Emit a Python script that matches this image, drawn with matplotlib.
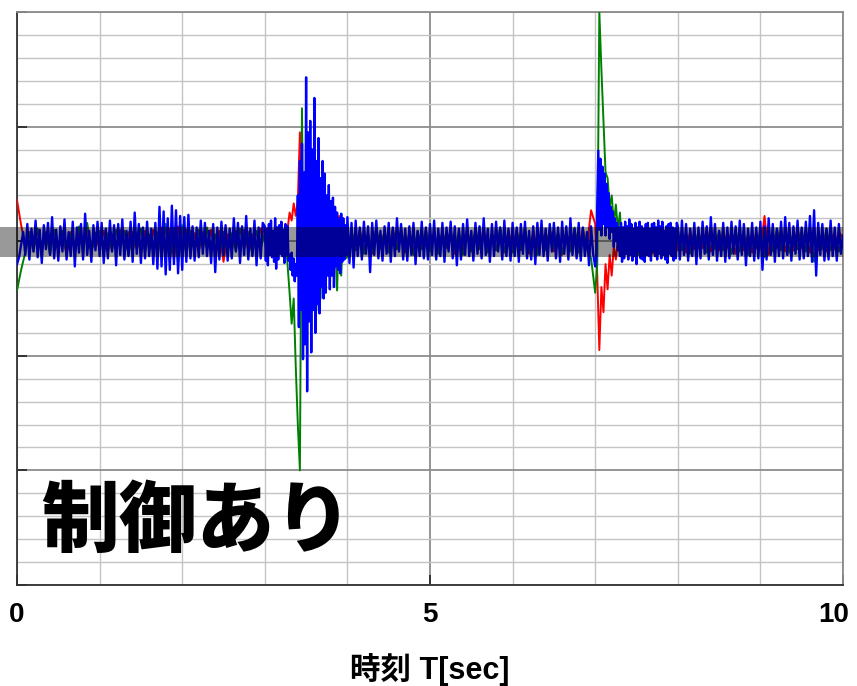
import numpy as np
import matplotlib
matplotlib.use('Agg')
from matplotlib import pyplot as plt
from matplotlib.patches import Rectangle
from matplotlib.transforms import blended_transform_factory, ScaledTranslation

# signal values, one list per second; samples of a list are spread evenly over that second
blue_values = [
    [-0.20, -0.14, -0.03, 0.08, -0.12, 0.15, -0.16, 0.11, -0.09, 0.18, -0.14, 0.10, -0.19, 0.14, -0.07, 0.16, -0.12, 0.21, -0.15, 0.10,
     -0.17, 0.13, -0.09, 0.19, -0.16, 0.08, -0.13, 0.17, -0.22, 0.12, -0.10, 0.15, -0.16, 0.24, -0.12, 0.09, -0.18, 0.14, -0.08, 0.17],
    [-0.13, 0.16, -0.19, 0.11, -0.15, 0.18, -0.09, 0.14, -0.21, 0.15, -0.12, 0.19, -0.16, 0.09, -0.13, 0.17, -0.18, 0.25, -0.11, 0.15,
     -0.19, 0.12, -0.15, 0.17, -0.13, 0.11, -0.20, 0.16, -0.24, 0.30, -0.22, 0.26, -0.29, 0.20, -0.25, 0.31, -0.20, 0.27, -0.28, 0.22],
    [-0.25, 0.21, -0.18, 0.23, -0.15, 0.13, -0.17, 0.12, -0.14, 0.18, -0.11, 0.16, -0.13, 0.09, -0.19, 0.15, -0.27, 0.12, -0.16, 0.17,
     -0.12, 0.14, -0.17, 0.11, -0.15, 0.20, -0.09, 0.16, -0.19, 0.13, -0.12, 0.22, -0.16, 0.11, -0.13, 0.18, -0.21, 0.12, -0.15, 0.16],
    [0.13, -0.17, 0.11, -0.21, 0.15, -0.12, 0.18, -0.14, 0.09, -0.18, 0.20, -0.24, 0.12, -0.16, 0.14, -0.11, 0.17, -0.13, 0.10, -0.19,
     0.15, -0.12, 0.13, -0.17, -0.12, -0.25, -0.10, -0.30, -0.15, -0.35, -0.20, -0.30, 0.40, -0.75, 0.70, -0.60, 0.85, -1.03, 0.60, -0.90,
     1.43, -1.31, 0.95, -0.70, 1.05, -0.97, 0.80, -0.60, 1.25, -0.80, 0.70, -0.55, 0.90, -0.63, 0.55, -0.40, 0.70, -0.50, 0.59, -0.45,
     0.40, -0.30, 0.49, -0.42, 0.35, -0.30, 0.38, -0.40, 0.30, -0.22, 0.25, -0.25, 0.20, -0.28, 0.24, -0.18, 0.20, -0.16, 0.14, -0.12],
    [0.21, -0.19, 0.16, -0.23, 0.18, -0.13, 0.12, -0.16, 0.17, -0.11, 0.13, -0.27, 0.16, -0.12, 0.18, -0.15, 0.09, -0.17, 0.13, -0.11,
     0.16, -0.18, 0.12, -0.13, 0.20, -0.09, 0.15, -0.16, 0.11, -0.17, 0.13, -0.12, 0.16, -0.20, 0.09, -0.13, 0.17, -0.15, 0.12, -0.16],
    [0.15, -0.12, 0.18, -0.16, 0.11, -0.13, 0.16, -0.18, 0.12, -0.09, 0.17, -0.15, 0.13, -0.21, 0.11, -0.16, 0.15, -0.12, 0.19, -0.13,
     0.09, -0.17, 0.16, -0.11, 0.13, -0.15, 0.20, -0.12, 0.11, -0.18, 0.15, -0.13, 0.17, -0.09, 0.12, -0.16, 0.18, -0.13, 0.11, -0.17],
    [0.16, -0.13, 0.12, -0.18, 0.15, -0.11, 0.17, -0.15, 0.09, -0.16, 0.13, -0.20, 0.16, -0.12, 0.18, -0.13, 0.11, -0.17, 0.15, -0.09,
     0.16, -0.15, 0.12, -0.18, 0.17, -0.11, 0.13, -0.16, 0.20, -0.12, 0.11, -0.15, 0.16, -0.17, 0.12, -0.13, 0.08, -0.21, 0.13, -0.11],
    [-0.22, -0.15, 0.30, 0.79, 0.10, 0.72, 0.05, 0.65, 0.15, 0.59, 0.05, 0.50, 0.12, 0.42, 0.02, 0.30, 0.08, 0.26, -0.05, 0.20,
     0.00, 0.16, -0.08, 0.12, -0.13, 0.16, -0.18, 0.12, -0.15, 0.17, -0.11, 0.13, -0.16, 0.19, -0.12, 0.15, -0.17, 0.11, -0.13, 0.16,
     -0.20, 0.12, -0.09, 0.17, -0.15, 0.13, -0.16, 0.11, -0.18, 0.15, -0.12, 0.16, -0.13, 0.11, -0.17, 0.15, -0.09, 0.16, -0.13, 0.12,
     -0.16, 0.18, -0.11, 0.13, -0.15, 0.17, -0.12, 0.09, -0.16, 0.13, -0.19, 0.15, -0.11, 0.16, -0.13, 0.12, -0.17, 0.11, -0.15, 0.16],
    [0.13, -0.16, 0.18, -0.12, 0.15, -0.17, 0.11, -0.13, 0.16, -0.20, 0.12, -0.15, 0.17, -0.11, 0.13, -0.16, 0.21, -0.12, 0.15, -0.17,
     0.09, -0.13, 0.16, -0.18, 0.12, -0.15, 0.17, -0.11, 0.13, -0.16, 0.18, -0.12, 0.15, -0.21, 0.11, -0.13, 0.16, -0.17, 0.12, -0.15],
    [0.17, -0.25, 0.13, -0.16, 0.20, -0.12, 0.15, -0.18, 0.11, -0.13, 0.17, -0.15, 0.21, -0.12, 0.16, -0.17, 0.13, -0.11, 0.18, -0.16,
     0.12, -0.15, 0.17, -0.13, 0.22, -0.18, 0.27, -0.30, 0.16, -0.12, 0.15, -0.17, 0.11, -0.16, 0.18, -0.13, 0.12, -0.17, 0.15, -0.11],
]
blue_end = 0.05

green_values = [
    [-0.43, -0.25, -0.10, 0.07, -0.09, 0.11, -0.06, 0.08, -0.12, 0.10, -0.07, 0.09, -0.10, 0.06, -0.08, 0.13, -0.11, 0.16, -0.10, 0.07],
    [0.09, -0.11, 0.07, -0.08, 0.10, -0.06, 0.09, -0.12, 0.08, -0.07, 0.11, -0.09, 0.06, -0.10, 0.08, -0.13, 0.15, -0.18, 0.12, -0.20],
    [0.14, -0.12, 0.09, -0.08, 0.10, -0.07, 0.12, -0.09, 0.06, -0.11, 0.08, -0.10, 0.07, -0.09, 0.11, -0.06, 0.08, -0.12, 0.09, -0.07],
    [0.08, -0.10, 0.06, -0.12, 0.09, -0.07, 0.10, -0.11, 0.08, -0.09, 0.07, -0.20, -0.45, -0.72, -0.50, -1.10, -1.60, -2.00, 1.16, -0.80,
     0.60, -0.70, 0.40, -0.55, 0.30, -0.60, 0.25, -0.50, 0.20, -0.35, 0.15, -0.30, 0.12, -0.25, 0.10, -0.43, 0.15, -0.30, 0.10, -0.15],
    [-0.14, 0.10, -0.08, 0.09, -0.11, 0.07, -0.09, 0.12, -0.06, 0.08, -0.10, 0.09, -0.07, 0.11, -0.08, 0.06, -0.12, 0.09, -0.07, 0.10],
    [-0.09, 0.07, -0.11, 0.08, -0.06, 0.10, -0.08, 0.09, -0.12, 0.07, -0.09, 0.11, -0.07, 0.08, -0.10, 0.06, -0.08, 0.12, -0.09, 0.07],
    [-0.10, 0.08, -0.07, 0.11, -0.09, 0.06, -0.12, 0.09, -0.08, 0.10, -0.06, 0.08, -0.11, 0.07, -0.09, 0.12, -0.10, 0.08, -0.07, -0.15],
    [-0.45, -0.20, 2.00, 1.50, 1.05, 0.60, 0.55, 0.30, 0.40, 0.15, 0.32, 0.10, 0.25, -0.12, 0.08, -0.10, 0.09, -0.07, 0.11, -0.08,
     0.06, -0.12, 0.09, -0.07, 0.10, -0.08, 0.07, -0.11, 0.09, -0.06, 0.08, -0.10, 0.12, -0.07, 0.09, -0.08, 0.06, -0.11, 0.10, -0.09],
    [0.10, -0.08, 0.07, -0.11, 0.09, -0.06, 0.08, -0.10, 0.12, -0.07, 0.09, -0.08, 0.06, -0.11, 0.10, -0.09, 0.07, -0.12, 0.08, -0.06],
    [0.09, -0.14, 0.07, -0.09, 0.11, -0.08, 0.06, -0.10, 0.08, -0.07, 0.10, -0.09, 0.12, -0.18, 0.09, -0.07, 0.11, -0.08, 0.06, -0.09],
]
green_end = 0.04

red_values = [
    [0.36, 0.14, -0.04, 0.08, -0.06, 0.09, -0.10, 0.07, -0.05, 0.10, -0.08, 0.06, -0.12, 0.08, -0.07, 0.09, -0.05, 0.11, -0.09, 0.06],
    [-0.07, 0.09, -0.10, 0.06, -0.08, 0.10, -0.06, 0.08, -0.09, 0.07, -0.11, 0.09, -0.06, 0.10, -0.08, 0.12, -0.14, 0.11, -0.16, 0.13],
    [-0.12, 0.10, -0.08, 0.07, -0.09, 0.08, -0.06, 0.10, -0.07, 0.09, -0.18, 0.06, -0.08, 0.09, -0.07, 0.10, -0.09, 0.06, -0.08, 0.11],
    [0.07, -0.09, 0.10, -0.06, 0.08, -0.10, 0.06, -0.08, 0.09, -0.07, 0.08, 0.10, 0.25, 0.18, 0.33, 0.22, 0.36, 0.95, 0.50, -0.40,
     0.45, -0.35, 0.40, -0.30, 0.30, -0.30, 0.25, -0.20, 0.22, -0.20, 0.20, -0.15, 0.22, -0.10, 0.28, -0.10, 0.22, -0.08, 0.12, -0.06],
    [-0.10, 0.08, -0.07, 0.10, -0.09, 0.06, -0.11, 0.08, -0.06, 0.09, -0.08, 0.11, -0.07, 0.06, -0.10, 0.08, -0.09, 0.07, -0.06, 0.10],
    [-0.08, 0.07, -0.10, 0.09, -0.06, 0.08, -0.11, 0.06, -0.09, 0.10, -0.07, 0.08, -0.06, 0.11, -0.09, 0.07, -0.08, 0.06, -0.10, 0.09],
    [-0.07, 0.10, -0.08, 0.06, -0.11, 0.09, -0.07, 0.08, -0.06, 0.10, -0.09, 0.07, -0.12, 0.08, -0.06, 0.09, -0.08, 0.11, -0.05, 0.27],
    [0.15, -0.30, -0.95, -0.40, -0.62, -0.20, -0.42, -0.12, -0.30, -0.05, -0.16, 0.02, -0.10, 0.08, -0.06, 0.09, -0.11, 0.07, -0.08, 0.10,
     -0.06, 0.08, -0.09, 0.06, -0.07, 0.10, -0.08, 0.07, -0.11, 0.06, -0.09, 0.08, -0.07, 0.10, -0.06, 0.09, -0.08, 0.07, -0.10, 0.08],
    [-0.08, 0.06, -0.10, 0.09, -0.07, 0.08, -0.06, 0.11, -0.09, 0.07, -0.08, 0.10, -0.06, 0.09, -0.11, 0.07, -0.08, 0.06, -0.10, 0.08],
    [-0.07, 0.22, -0.12, 0.08, -0.06, 0.10, -0.09, 0.07, -0.08, 0.11, -0.06, 0.09, -0.10, 0.07, -0.08, 0.06, -0.09, 0.10, -0.07, 0.08],
]
red_end = 0.03

x_ticks = [0, 5, 10]
x_tick_labels = ['0', '5', '10']
x_label = '時刻 T[sec]'
note_text = '制御あり'


def to_series(per_second, end_value):
    # each second's samples are spread evenly over that second
    t, v = [], []
    for sec, vals in enumerate(per_second):
        t.extend(np.linspace(sec, sec + 1, len(vals), endpoint=False))
        v.extend(vals)
    t.append(len(per_second))
    v.append(end_value)
    return np.array(t), np.array(v)


latin_cjk = ['Liberation Sans', 'Noto Sans CJK JP', 'DejaVu Sans']

fig = plt.figure(figsize=(8.57, 6.86), dpi=100)
ax = fig.add_axes([17 / 857, 101 / 686, 826 / 857, 573 / 686])

t_r, v_r = to_series(red_values, red_end)
t_g, v_g = to_series(green_values, green_end)
t_b, v_b = to_series(blue_values, blue_end)
ax.plot(t_r, v_r, color='#ff0000', lw=1.4, zorder=3)
ax.plot(t_g, v_g, color='#008000', lw=1.4, zorder=4)
ax.plot(t_b, v_b, color='#0000ff', lw=1.7, zorder=5)

ax.set_xlim(0, 10)
ax.set_ylim(-3, 2)
ax.set_xticks(x_ticks)
ax.set_xticks(np.arange(0, 11, 1), minor=True)
ax.set_yticks(np.arange(-3, 3, 1))
ax.set_yticks(np.arange(-3, 2.01, 0.2), minor=True)
ax.set_yticklabels([])
ax.set_xticklabels(x_tick_labels, fontsize=20, fontweight='bold', family=latin_cjk)

ax.grid(which='major', color='#8c8c8c', lw=1.3, zorder=1)
ax.grid(which='minor', color='#c4c4c4', lw=1.0, zorder=1)
ax.set_axisbelow(True)

ax.tick_params(which='major', direction='in', length=7, width=1.2, color='#222222', pad=12)
ax.tick_params(which='minor', length=0)
ax.tick_params(axis='y', which='major', labelleft=False)

for side in ['left', 'bottom']:
    ax.spines[side].set_color('#333333')
    ax.spines[side].set_linewidth(1.3)
for side in ['top', 'right']:
    ax.spines[side].set_color('#8c8c8c')
    ax.spines[side].set_linewidth(1.3)

# shift the last tick label a little so it stays inside the picture
last = ax.get_xticklabels()[-1]
last.set_transform(last.get_transform() + ScaledTranslation(-0.09, 0, fig.dpi_scale_trans))

ax.set_xlabel(x_label, fontsize=22, fontweight='bold', family=latin_cjk, labelpad=18)

ax.text(0.2173, 0.108, note_text, transform=ax.transAxes, ha='center', va='center',
        fontsize=56, fontweight='black', family=['Noto Sans CJK JP', 'DejaVu Sans'], zorder=6)

# translucent grey band across the zero line, reaching the left edge of the picture
band_tr = blended_transform_factory(fig.transFigure, ax.transData)
band = Rectangle((0, -0.14), 843 / 857, 0.26, transform=band_tr, facecolor='black',
                 alpha=0.4, edgecolor='none', zorder=10)
fig.add_artist(band)

fig.savefig('out.png', dpi=100)
